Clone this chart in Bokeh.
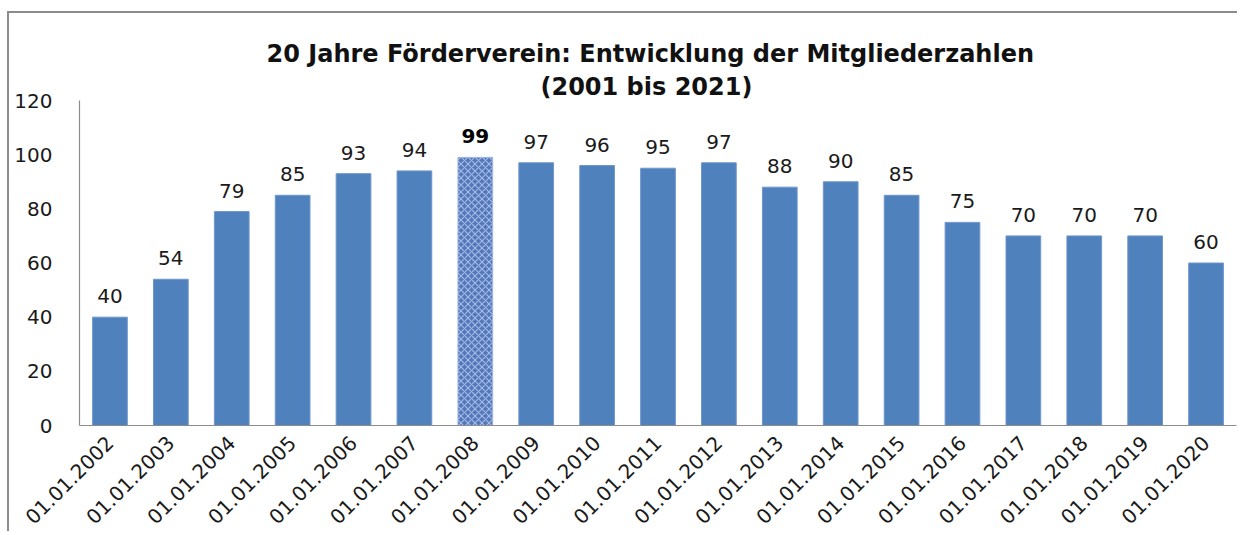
import math
from bokeh.plotting import figure
from bokeh.models import ColumnDataSource, Range1d, FixedTicker, Title
from bokeh.core.properties import value
from bokeh.embed import file_html
from bokeh.resources import INLINE

# ---- data ----
categories = ["01.01.2002", "01.01.2003", "01.01.2004", "01.01.2005", "01.01.2006",
              "01.01.2007", "01.01.2008", "01.01.2009", "01.01.2010", "01.01.2011",
              "01.01.2012", "01.01.2013", "01.01.2014", "01.01.2015", "01.01.2016",
              "01.01.2017", "01.01.2018", "01.01.2019", "01.01.2020"]
members = [40, 54, 79, 85, 93, 94, 99, 97, 96, 95, 97, 88, 90, 85, 75, 70, 70, 70, 60]
highlight = "01.01.2008"
y_ticks = [0, 20, 40, 60, 80, 100, 120]
title_line1 = "20 Jahre Förderverein: Entwicklung der Mitgliederzahlen"
title_line2 = "(2001 bis 2021)"

# ---- sources ----
normal = [(c, v) for c, v in zip(categories, members) if c != highlight]
special = [(c, v) for c, v in zip(categories, members) if c == highlight]
src_n = ColumnDataSource(dict(cat=[c for c, _ in normal], val=[v for _, v in normal],
                              lab=[str(v) for _, v in normal]))
src_h = ColumnDataSource(dict(cat=[c for c, _ in special], val=[v for _, v in special],
                              lab=[str(v) for _, v in special]))

p = figure(x_range=categories, y_range=Range1d(0, 120), width=1230, height=520,
           output_backend="svg", toolbar_location=None,
           min_border_left=70, min_border_right=3, min_border_top=87, min_border_bottom=108)

p.title.visible = False
p.title.text = ""
sub = Title(text=title_line2, align="left", text_font="DejaVu Sans",
            text_font_style="bold", text_font_size="24px", text_color="#111111",
            standoff=0, offset=461)
main = Title(text=title_line1, align="left", text_font="DejaVu Sans",
             text_font_style="bold", text_font_size="24px", text_color="#111111",
             standoff=6, offset=187)
p.add_layout(sub, "above")
p.add_layout(main, "above")

bar_w = 0.57
p.vbar(x="cat", top="val", width=bar_w, source=src_n, fill_color="#4F81BD",
       line_color="#7096CE", line_width=1)
p.vbar(x="cat", top="val", width=bar_w, source=src_h, fill_color="#5577B8",
       line_color="#9DB6E0", line_width=1, hatch_pattern="x", hatch_color="#A9C3EE",
       hatch_scale=7, hatch_weight=1.1, hatch_alpha=0.9)

p.text(x="cat", y="val", text="lab", source=src_n, text_align="center",
       text_baseline="bottom", y_offset=-14, text_font=value("DejaVu Sans"),
       text_font_size="20px", text_color="#1a1a1a")
p.text(x="cat", y="val", text="lab", source=src_h, text_align="center",
       text_baseline="bottom", y_offset=-14, text_font=value("DejaVu Sans"),
       text_font_size="20px", text_font_style="bold", text_color="#000000")

p.xgrid.grid_line_color = None
p.ygrid.grid_line_color = None
p.outline_line_color = None
p.background_fill_color = "white"
p.border_fill_color = None

p.yaxis.ticker = FixedTicker(ticks=y_ticks)
for ax in (p.xaxis, p.yaxis):
    ax.axis_line_color = "#8C8C8C"
    ax.axis_line_width = 1.2
    ax.major_tick_line_color = None
    ax.minor_tick_line_color = None
    ax.major_label_text_font = "DejaVu Sans"
    ax.major_label_text_color = "#1a1a1a"
p.yaxis.major_label_text_font_size = "20px"
p.xaxis.major_label_text_font_size = "20px"
p.yaxis.major_label_standoff = 21
p.xaxis.major_label_orientation = math.pi / 4
p.xaxis.major_label_standoff = 8
p.x_range.range_padding = 0.0

p.styles = {"margin-left": "7px", "margin-top": "11px",
            "border-left": "2px solid #8C8C8C", "border-top": "2px solid #8C8C8C"}

open("out.html", "w").write(file_html(p, INLINE))
